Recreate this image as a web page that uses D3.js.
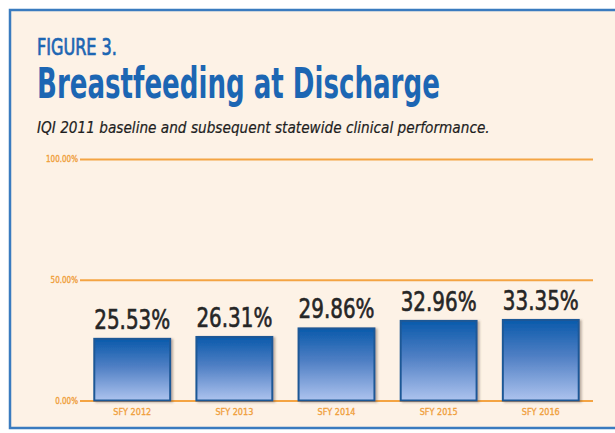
<!DOCTYPE html>
<html>
<head>
<meta charset="utf-8">
<script src="https://cdn.jsdelivr.net/npm/d3@7"></script>
<style>
  html, body { margin: 0; padding: 0; background: #ffffff; }
  svg { display: block; }
</style>
</head>
<body>
<script>
// Breastfeeding at discharge, statewide rate by state fiscal year
const categories = ["SFY 2012", "SFY 2013", "SFY 2014", "SFY 2015", "SFY 2016"];
const values = [25.53, 26.31, 29.86, 32.96, 33.35];
const valueLabels = ["25.53%", "26.31%", "29.86%", "32.96%", "33.35%"];
const tickValues = [0, 50, 100];
const tickLabels = ["0.00%", "50.00%", "100.00%"];

const W = 615, H = 433;
const svg = d3.select("body").append("svg").attr("width", W).attr("height", H);
const fontCond = "'Liberation Sans Narrow', 'DejaVu Sans Condensed', 'Open Sans', sans-serif";

// Squeeze a text horizontally to a target width, anchored at its start
function fitWidth(sel, x, y, width) {
  const natural = sel.node().getComputedTextLength();
  const k = width / natural;
  sel.attr("x", 0).attr("y", 0)
    .attr("transform", `translate(${x},${y}) scale(${k},1)`);
  return sel;
}

const defs = svg.append("defs");
const grad = defs.append("linearGradient")
  .attr("id", "barFill").attr("x1", 0).attr("y1", 0).attr("x2", 0).attr("y2", 1);
grad.append("stop").attr("offset", "0%").attr("stop-color", "#0a5aab");
grad.append("stop").attr("offset", "45%").attr("stop-color", "#4f7fc4");
grad.append("stop").attr("offset", "100%").attr("stop-color", "#adc3ee");

const shadow = defs.append("filter").attr("id", "barShadow")
  .attr("x", "-10%").attr("y", "-10%").attr("width", "130%").attr("height", "130%");
shadow.append("feDropShadow").attr("dx", 2).attr("dy", 1).attr("stdDeviation", 1.2)
  .attr("flood-color", "#6b5a48").attr("flood-opacity", 0.45);

// Panel
svg.append("rect").attr("x", 10).attr("y", 10).attr("width", 615).attr("height", 418)
  .attr("fill", "#fdf2e6").attr("stroke", "#3a7bbf").attr("stroke-width", 2.5);

// Headings
fitWidth(svg.append("text")
  .attr("font-family", fontCond).attr("font-size", 23).attr("fill", "#1c66b3")
  .attr("stroke", "#1c66b3").attr("stroke-width", 0.7)
  .text("FIGURE 3."), 37, 55, 80);
fitWidth(svg.append("text")
  .attr("font-family", fontCond).attr("font-weight", "bold").attr("font-size", 42).attr("fill", "#1c66b3")
  .text("Breastfeeding at Discharge"), 37, 98, 403);
fitWidth(svg.append("text")
  .attr("font-family", fontCond).attr("font-style", "italic").attr("font-size", 16).attr("fill", "#1e1e1e")
  .attr("stroke", "#1e1e1e").attr("stroke-width", 0.2)
  .text("IQI 2011 baseline and subsequent statewide clinical performance."), 37, 133, 453);

// Scales
const x = d3.scaleBand().domain(categories).range([81, 592]).paddingInner(0.257).paddingOuter(0.13);
const y = d3.scaleLinear().domain([0, 100]).range([400.5, 159]);

// Gridlines with tick labels
const yAxis = d3.axisLeft(y).tickValues(tickValues)
  .tickFormat((d, i) => tickLabels[i]).tickSize(-(593 - 80)).tickPadding(2);
const gy = svg.append("g").attr("transform", "translate(80,0)").call(yAxis);
gy.select(".domain").remove();
gy.selectAll(".tick line").attr("stroke", "#f4a443").attr("stroke-width", 2);
gy.selectAll(".tick text").attr("font-family", fontCond).attr("font-size", 8)
  .attr("fill", "#f0a03c").attr("stroke", "#f0a03c").attr("stroke-width", 0.3);

// Bars
svg.append("g").selectAll("rect").data(values).join("rect")
  .attr("x", (d, i) => x(categories[i]))
  .attr("y", d => y(d))
  .attr("width", x.bandwidth())
  .attr("height", d => y(0) - y(d))
  .attr("fill", "url(#barFill)")
  .attr("stroke", "#1f5896").attr("stroke-width", 2)
  .attr("filter", "url(#barShadow)");

// Value labels, squeezed to the bar width
svg.append("g").selectAll("text").data(values).join("text")
  .attr("text-anchor", "middle")
  .attr("font-family", fontCond).attr("font-size", 26).attr("fill", "#262626")
  .attr("stroke", "#262626").attr("stroke-width", 0.6)
  .text((d, i) => valueLabels[i])
  .each(function (d, i) {
    const k = 76 / this.getComputedTextLength();
    const cx = x(categories[i]) + x.bandwidth() / 2;
    d3.select(this).attr("transform", `translate(${cx},${y(d) - 10}) scale(${k},1)`);
  });

// Category axis
const xAxis = d3.axisBottom(x).tickSize(0).tickPadding(8);
const gx = svg.append("g").attr("transform", `translate(0,${y(0)})`).call(xAxis);
gx.select(".domain").remove();
gx.selectAll(".tick text").attr("font-family", fontCond).attr("font-size", 9)
  .attr("fill", "#f0a03c").attr("stroke", "#f0a03c").attr("stroke-width", 0.3);
</script>
</body>
</html>
